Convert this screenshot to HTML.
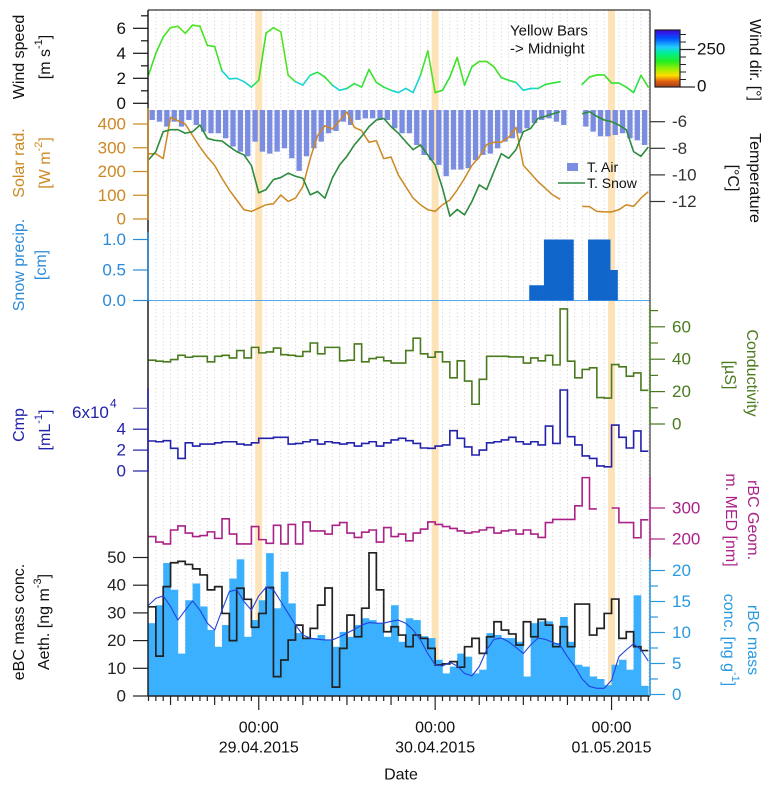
<!DOCTYPE html>
<html><head><meta charset="utf-8">
<style>
html,body{margin:0;padding:0;background:#fff;}
svg{display:block;font-family:"Liberation Sans",Arial,sans-serif;}
</style></head>
<body>
<svg id="chart" width="772" height="793" viewBox="0 0 772 793" xmlns="http://www.w3.org/2000/svg">
<defs>
<linearGradient id="cbar" x1="0" y1="1" x2="0" y2="0">
<stop offset="0" stop-color="#a0401e"/><stop offset="0.1" stop-color="#e06010"/><stop offset="0.2" stop-color="#ffdd00"/><stop offset="0.3" stop-color="#aaee00"/><stop offset="0.45" stop-color="#22ee22"/><stop offset="0.6" stop-color="#00ee99"/><stop offset="0.7" stop-color="#22ccff"/><stop offset="0.85" stop-color="#0055ff"/><stop offset="1" stop-color="#4400dd"/>
</linearGradient>
</defs>
<g id="bg"></g>
<g id="marks"></g>
<g id="axes"></g>
</svg>
<script>
// ---- data (hourly, index 0 = 28.04.2015 09:00) ----
const windSpeed=[2.24,4.0,5.3,6.05,6.16,5.6,6.26,6.16,4.64,4.54,2.6,1.95,2.0,1.73,1.3,1.84,5.62,6.05,5.72,2.24,1.73,1.46,2.24,2.48,2.1,1.46,1.04,1.19,1.57,1.3,2.7,1.67,1.3,1.04,0.86,1.19,0.86,2.24,4.2,0.86,1.04,2.1,3.67,1.46,2.92,3.35,3.35,2.92,2.05,1.84,1.67,1.04,1.19,1.19,1.51,1.62,1.73,null,null,1.51,2.1,2.27,2.27,1.62,1.62,1.3,0.86,2.24,1.3];
const windDir=[170,170,165,160,160,165,160,160,170,170,250,250,255,250,200,170,165,160,160,170,250,250,200,180,180,250,250,190,180,180,170,180,190,250,255,250,250,170,160,170,180,170,165,180,170,165,165,170,180,190,250,250,250,190,180,180,170,null,null,180,170,170,170,180,180,180,190,170,170];
const solarRad=[275,275,254,428,414,400,351,303,261,226,171,122,80,39,32,46,60,64,101,74,88,136,254,351,393,379,414,451,386,372,323,330,254,261,185,136,88,60,39,32,60,80,122,171,226,261,313,323,323,344,386,226,192,157,129,101,83,null,null,53,52,32,30,30,39,60,53,88,115];
const tAir=[-5.87,-6.0,-6.37,-6.0,-6.37,-5.87,-6.25,-6.75,-6.87,-6.87,-7.25,-7.87,-8.25,-8.6,-7.5,-8.25,-8.4,-8.25,-8.0,-8.75,-9.7,-8.6,-8.0,-7.5,-6.87,-6.7,-6.0,-6.25,-5.87,-5.75,-5.75,-5.87,-5.87,-6.5,-6.87,-6.87,-7.75,-8.5,-8.9,-9.25,-10.1,-9.6,-9.6,-9.5,-8.9,-8.5,-8.4,-8.0,-7.5,-7.25,-6.87,-6.5,-6.1,-5.87,-5.75,-6.0,-6.25,null,null,-6.37,-6.75,-7.1,-7.1,-7.0,-6.87,-7.25,-7.4,-7.75];
const tSnow=[-8.87,-8.25,-6.75,-6.6,-6.6,-6.87,-6.75,-6.25,-7.25,-7.4,-7.45,-7.87,-8.25,-8.5,-9.3,-11.35,-11.1,-10.35,-10.2,-9.87,-10.1,-10.25,-11.5,-11.25,-11.75,-10.25,-9.25,-8.6,-7.75,-7.1,-6.37,-5.87,-5.75,-6.37,-6.87,-7.5,-8.1,-7.75,-8.5,-9.25,-11.0,-13.1,-12.6,-13.0,-12.0,-10.75,-11.1,-9.75,-8.4,-8.75,-8.1,-6.75,-6.5,-5.75,-5.6,-5.4,-5.25,null,null,-5.4,-5.25,-5.6,-5.87,-6.0,-6.25,-6.6,-8.25,-8.6,-7.9];
const snowPrecip=[0,0,0,0,0,0,0,0,0,0,0,0,0,0,0,0,0,0,0,0,0,0,0,0,0,0,0,0,0,0,0,0,0,0,0,0,0,0,0,0,0,0,0,0,0,0,0,0,0,0,0,0.25,0.25,1,1,1,1,0,0,1,1,1,0.5,0,0,0,0,0];
const conductivity=[39.4,38.8,38.4,39.8,42.4,41.2,41.8,41.8,38.4,41.8,42.4,40.8,45.3,40.8,47.3,43.9,44.5,46.9,42.8,42.4,41.8,44.7,50,43.3,47.3,47.3,39,39.4,49.4,38.4,40.4,41.2,39,37.6,37.6,45.3,53,43.3,41.2,44.5,38.4,28.5,39,26.5,12.2,27.6,41.8,41.8,41.8,41.4,41.4,37.6,40.8,39,42.4,36.5,71,38.8,28.5,33.7,34.7,16.3,16,36.7,35.3,29.5,31.5,20.8];
const cmp=[2.87,2.8,2.9,2.17,1.2,2.7,2.39,2.58,2.58,2.7,2.8,2.8,2.58,2.49,2.7,3.13,3.13,3.22,3.22,2.58,2.64,2.8,2.97,2.58,2.8,2.7,2.58,2.7,2.39,2.64,2.8,2.39,2.7,2.97,3.13,2.9,2.64,2.2,2.17,2.39,2.49,3.86,3.13,2.3,1.53,2.0,2.7,2.8,2.97,3.22,2.8,2.58,2.8,2.49,4.3,2.64,7.75,3.28,2.49,1.44,1.2,0.48,0.4,4.4,3.22,2.2,3.83,1.9];
const geomMED=[208,190,184,229,242,219,208,211,223,202,265,216,184,184,240,198,186,244,184,247,184,255,226,226,216,244,253,219,205,222,229,190,237,208,216,194,219,232,255,247,240,234,226,219,223,229,237,219,226,229,216,229,216,205,253,263,263,263,307,398,297,null,null,300,253,253,204,262];
const eBC=[32.2,14.4,39.5,48.1,48.6,47.5,45.9,43.7,38.3,39.5,29.8,20,38.9,34.9,24.8,29.8,39.2,7,13,20.2,25.6,20.8,24.4,32.8,39,3.2,17.2,29.2,21.4,31.7,51.7,38.3,23.2,25,22,17.8,22,20.8,17.2,11.2,11.6,12.4,10.4,17.8,20.8,15.4,21.4,26.8,23.8,22.4,18.4,26.8,21.4,27.7,25.6,17.8,25,17.8,33.2,33.2,22,24.4,29.8,35,20.8,23.2,17.8,16.4];
const rBCmass=[11.5,14.4,21.2,16.9,6.6,15.2,17.9,14.2,10.4,7.7,11.2,18.7,21.8,9.3,12,15.2,22.8,13.9,19.8,14.7,9.9,9.1,9.1,9.6,8.8,7.7,10.1,9.3,11.2,12.3,12,11.5,9.3,14.4,8.5,12.3,12,9.4,9.1,5.6,3.4,4.5,6.6,6.1,3.4,4,9.9,9.6,9.1,9.1,8.5,2.9,11.5,11.8,11.8,8.3,12.5,8.5,4.8,4.5,2.9,2.5,1.5,4.8,5.6,4,16,1.4];
const rBCsmooth=[14.4,15.5,15.9,14.2,12,13.6,15.1,13.6,11.5,10.4,13.6,16.6,16.9,15,13.6,15.9,17.3,16.9,15,13.1,11.2,9.6,9.1,8.9,8.8,8.8,9.3,9.9,10.5,11.2,11.6,11.5,11.5,11.8,12,11.5,10.4,8.8,6.6,4.8,4.6,5.2,4.6,3.4,3,4.5,7.2,8.9,9.1,8.5,7.6,6.6,8,9.1,8.9,8.4,8,6.1,4.5,2.5,1.3,1.0,1.0,2.3,6.1,7.2,8.2,7.2,5.4];
const midnights=[15,39,63];
const dateLabels=["29.04.2015","30.04.2015","01.05.2015"];
const windTicks=[0,2,4,6];
const solarTicks=[0,100,200,300,400];
const tempTicks=[-6,-8,-10,-12];
const snowTicks=["0.0","0.5","1.0"];
const condTicks=[0,20,40,60];
const cmpTicks=[0,2,4,6];
const geomTicks=[200,300];
const eBCTicks=[0,10,20,30,40,50];
const rBCTicks=[0,5,10,15,20];

// ---- scales ----
const X0=148.5, DX=7.35, L=148, R=650, TOP=10, BOT=696;
const x=k=>X0+k*DX;
const yWind=v=>103.3-v*12.5;
const ySolar=v=>219-v*0.2375;
const yT=v=>121.7+(-6-v)*13.3;
const ySnow=v=>300.5-v*61;
const yCond=v=>424-v*1.62;
const yCmp=v=>471-v*10.45;
const yGeom=v=>539-(v-200)*0.31;
const yEBC=v=>696-v*2.77;
const yRBC=v=>694.5-v*6.2;

const NS="http://www.w3.org/2000/svg";
const bg=document.getElementById('bg'), marks=document.getElementById('marks'), axes=document.getElementById('axes');
function el(tag,attrs,parent,txt){const e=document.createElementNS(NS,tag);for(const k in attrs)e.setAttribute(k,attrs[k]);if(txt!==undefined)e.textContent=txt;parent.appendChild(e);return e;}

for(let k=0;k<=68;k++){
  const g=el('line',{x1:x(k),x2:x(k),y1:TOP,y2:BOT,stroke:'#c4c4c4','stroke-width':0.8,'stroke-dasharray':'1,2.6'},bg);
  
  
}
midnights.forEach(m=>{
  const r=el('rect',{x:x(m)-3.5,y:TOP,width:7,height:BOT-TOP,fill:'#fde3b8'},bg);
  
  
});

function dirColor(d){
  const stops=[[0,[160,64,30]],[38,[224,96,16]],[76,[255,221,0]],[114,[170,238,0]],[171,[60,225,40]],[228,[0,230,150]],[266,[40,200,250]],[323,[0,85,255]],[380,[68,0,221]]];
  for(let i=1;i<stops.length;i++){if(d<=stops[i][0]){const a=stops[i-1],b=stops[i],t=(d-a[0])/(b[0]-a[0]);return 'rgb('+a[1].map((c,j)=>Math.round(c+(b[1][j]-c)*t)).join(',')+')';}}
  return 'rgb(68,0,221)';
}
for(let k=0;k<windSpeed.length-1;k++){
  if(windSpeed[k]==null||windSpeed[k+1]==null)continue;
  const s=el('line',{x1:x(k),y1:yWind(windSpeed[k]),x2:x(k+1),y2:yWind(windSpeed[k+1]),stroke:dirColor(windDir[k]),'stroke-width':1.6,'stroke-linecap':'round'},marks);
  
  
}
tAir.forEach((v,k)=>{ if(v==null)return;
  const b=el('rect',{x:x(k)+1,y:110,width:DX-2,height:Math.max(0,yT(v)-110),fill:'#7b8de0'},marks);
  
  
});
function polyline(arr,yf,color,w,name){
  let d='',pen=false;
  arr.forEach((v,k)=>{if(v==null){pen=false;return;}d+=(pen?'L':'M')+x(k).toFixed(2)+','+yf(v).toFixed(2);pen=true;});
  const p=el('path',{d:d,fill:'none',stroke:color,'stroke-width':w,'stroke-linejoin':'round'},marks);
  
  
}
function stepline(arr,yf,color,w,name){
  let d='',pen=false;
  arr.forEach((v,k)=>{if(v==null){pen=false;return;}const y=yf(v).toFixed(2);d+=(pen?'L'+x(k).toFixed(2)+','+y:'M'+x(k).toFixed(2)+','+y)+'L'+x(k+1).toFixed(2)+','+y;pen=true;});
  const p=el('path',{d:d,fill:'none',stroke:color,'stroke-width':w},marks);
  
  
}
polyline(solarRad,ySolar,'#cc8822',1.5,'solar-radiation-line');
polyline(tSnow,yT,'#2e8b3e',1.6,'t-snow-line');
const sl=el('line',{x1:L,x2:R,y1:ySnow(0),y2:ySnow(0),stroke:'#55aaee','stroke-width':1},marks);


snowPrecip.forEach((v,k)=>{ if(!v)return;
  const b=el('rect',{x:x(k+0.8),y:ySnow(v),width:DX+0.4,height:ySnow(0)-ySnow(v),fill:'#1166cc'},marks);
  
  
});
stepline(conductivity,yCond,'#4a7a1e',1.6,'conductivity-line');
stepline(cmp,yCmp,'#2222aa',1.6,'cmp-line');
stepline(geomMED,yGeom,'#aa2288',1.6,'rbc-geom-med-line');
rBCmass.forEach((v,k)=>{
  const b=el('rect',{x:x(k),y:yRBC(v),width:DX+0.3,height:BOT-yRBC(v),fill:'#3ab0ff'},marks);
  
  
});
stepline(eBC,yEBC,'#222222',1.7,'ebc-line');
polyline(rBCsmooth,yRBC,'#2244dd',1.1,'rbc-smooth-line');

function line(x1,y1,x2,y2,c,w,name){const l=el('line',{x1,y1,x2,y2,stroke:c,'stroke-width':w},axes);return l;}
function text(tx,ty,s,opts,name){const t=el('text',Object.assign({x:tx,y:ty,'font-size':17,fill:'#111','dominant-baseline':'central'},opts),axes,s);return t;}
line(L,TOP,R,TOP,'#333',1.2,'top-border');
line(L,TOP,L,BOT,'#222',1.5,'left-axis-line');
line(R,TOP,R,BOT,'#333',1.2,'right-axis-line');
line(L,BOT,R,BOT,'#222',1.5,'x-axis-line');
function leftTicks(vals,yf,c,name,labels,minor){
  if(minor)minor.forEach(v=>line(L-7,yf(v),L,yf(v),c,1.2,name+'-minor-tick'));
  vals.forEach((v,i)=>{line(L-15,yf(+v),L,yf(+v),c,1.2,name+'-tick');if(labels!==false)text(126,yf(+v),String(v),{fill:c,'text-anchor':'end'},name+'-tick-label');});
}
function rightTicks(vals,yf,c,name,minor){
  if(minor)minor.forEach(v=>line(R,yf(v),R+8,yf(v),c,1.2,name+'-minor-tick'));
  vals.forEach(v=>{line(R,yf(v),R+15,yf(v),c,1.2,name+'-tick');text(672,yf(v),String(v),{fill:c},name+'-tick-label');});
}
leftTicks(windTicks,yWind,'#111','wind-speed',true,[1,3,5,7]);
line(L,108,L,220,'#cc8822',1.5,'solar-axis-segment');
leftTicks(solarTicks,ySolar,'#cc8822','solar');
line(L,232,L,301,'#2a8ad8',1.5,'snow-axis-segment');
leftTicks(snowTicks,ySnow,'#2a8ad8','snow');
line(L,388,L,472,'#2222aa',1.5,'cmp-axis-segment');
leftTicks([0,2,4],yCmp,'#2222aa','cmp');
line(L-15,yCmp(6),L,yCmp(6),'#6666cc',1.2,'cmp-tick');
text(72,yCmp(6)+4,'6x10',{fill:'#2222aa'},'cmp-tick-label-6');
text(110,yCmp(6)-5,'4',{fill:'#2222aa','font-size':12},'cmp-exponent');
leftTicks(eBCTicks,yEBC,'#222','ebc');
rightTicks(tempTicks,yT,'#333','temperature');
line(R,307,R,424,'#4a7a1e',1.5,'cond-axis-segment');
rightTicks(condTicks,yCond,'#4a7a1e','conductivity',[10,30,50,70]);
line(R,477,R,557,'#aa2288',1.5,'geom-axis-segment');
rightTicks(geomTicks,yGeom,'#aa2288','geom');
line(R,560,R,696,'#2a9ae0',1.5,'rbc-axis-segment');
rightTicks(rBCTicks,yRBC,'#2a9ae0','rbc-mass',[2.5,7.5,12.5,17.5]);
for(let k=0;k<=68;k++){
  const h=(k-15+240)%24; const len=(h===0)?14:(h%6===0?9:5);
  line(x(k),BOT,x(k),BOT+len,'#222',1.2,'x-tick');
}
midnights.forEach((m,i)=>{
  text(x(m),728,'00:00',{'text-anchor':'middle','font-size':16},'x-tick-time-label');
  text(x(m),748,dateLabels[i],{'text-anchor':'middle','font-size':16},'x-tick-date-label');
});
text(401,775,'Date',{'text-anchor':'middle','font-size':16},'x-axis-title');

const cb=el('rect',{x:655,y:30,width:25,height:57,fill:'url(#cbar)',stroke:'#222','stroke-width':1.2},axes);


[0,50,100,150,200,250,300,350].forEach(v=>line(680,87-v*57/380,686,87-v*57/380,'#222',1,'colorbar-minor-tick'));
line(680,87-250*57/380,695,87-250*57/380,'#222',1.2,'colorbar-tick');
line(680,87,695,87,'#222',1.2,'colorbar-tick');
text(697,49,'250',{},'colorbar-tick-label');
text(697,86,'0',{},'colorbar-tick-label');

function vtitle(cx,cy,s,rot,c,name,size){const t=el('text',{x:0,y:0,'font-size':size||16,fill:c,'text-anchor':'middle','dominant-baseline':'central',transform:'translate('+cx+','+cy+') rotate('+rot+')'},axes);return t;}
function addT(t,s,sup){el('tspan',{},t,s);if(sup){el('tspan',{dy:-6,'font-size':11},t,sup);el('tspan',{dy:6},t,']');}}
let t;
t=vtitle(19,57,'',-90,'#111','wind-speed-title');addT(t,'Wind speed');
t=vtitle(45,57,'',-90,'#111','wind-speed-unit');addT(t,'[m s','-1');
t=vtitle(19,163,'',-90,'#cc8822','solar-title');addT(t,'Solar rad.');
t=vtitle(45,163,'',-90,'#cc8822','solar-unit');addT(t,'[W m','-2');
t=vtitle(19,265,'',-90,'#2a8ad8','snow-title');addT(t,'Snow precip.');
t=vtitle(41,265,'',-90,'#2a8ad8','snow-unit');addT(t,'[cm]');
t=vtitle(19,425,'',-90,'#2222aa','cmp-title');addT(t,'Cmp');
t=vtitle(45,430,'',-90,'#2222aa','cmp-unit');addT(t,'[mL','-1');
t=vtitle(19,622,'',-90,'#111','ebc-title');addT(t,'eBC mass conc.');
t=vtitle(44,622,'',-90,'#111','ebc-unit');addT(t,'Aeth. [ng m','-3');
t=vtitle(755,60,'',90,'#111','wind-dir-title');addT(t,'Wind dir. [°]');
t=vtitle(755,178,'',90,'#111','temperature-title');addT(t,'Temperature');
t=vtitle(733,178,'',90,'#111','temperature-unit');addT(t,'[°C]');
t=vtitle(752,373,'',90,'#4a7a1e','conductivity-title');addT(t,'Conductivity');
t=vtitle(730,375,'',90,'#4a7a1e','conductivity-unit');addT(t,'[µS]');
t=vtitle(753,520,'',90,'#aa2288','geom-title');addT(t,'rBC Geom.');
t=vtitle(731,520,'',90,'#aa2288','geom-unit');addT(t,'m. MED [nm]');
t=vtitle(753,640,'',90,'#2a9ae0','rbc-mass-title');addT(t,'rBC mass');
t=vtitle(729,640,'',90,'#2a9ae0','rbc-mass-unit');addT(t,'conc. [ng g','-1');

text(510,31,'Yellow Bars',{'font-size':15},'midnight-note-line1');
text(510,49,'-> Midnight',{'font-size':15},'midnight-note-line2');
const lb=el('rect',{x:567,y:163,width:11,height:8,fill:'#7b8de0'},axes);


text(587,167,'T. Air',{'font-size':14},'legend-t-air-label');
line(558,183,585,183,'#2e8b3e',1.6,'legend-t-snow-swatch');
text(587,183,'T. Snow',{'font-size':14},'legend-t-snow-label');
</script>
</body></html>
